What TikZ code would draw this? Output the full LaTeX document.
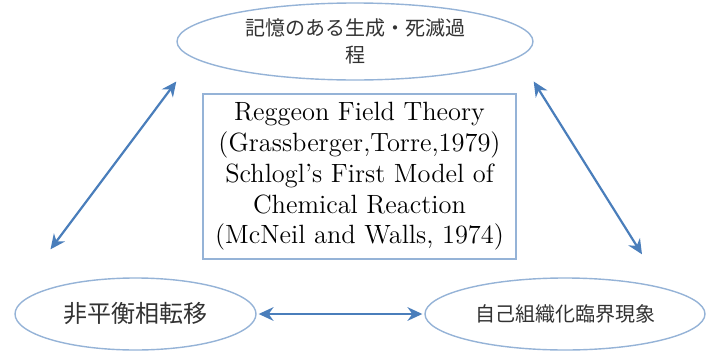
\documentclass[tikz,border=0pt]{standalone}
\usepackage{fontspec}
\usepackage{tikz}
\usetikzlibrary{arrows.meta,positioning,calc,shapes.geometric}
\newfontfamily\jfont{Noto Sans CJK JP}
\definecolor{rim}{RGB}{149,179,215}
\definecolor{link}{RGB}{74,126,187}
\definecolor{ink}{RGB}{50,50,50}
\tikzset{
  phase/.style={ellipse,draw=rim,line width=0.7pt,fill=white,inner sep=0pt,
    font=\jfont,text=ink,align=center},
  refbox/.style={draw=rim,line width=0.7pt,inner sep=0pt,
    font=\fontsize{13.2}{15.4}\selectfont,align=center},
  both/.style={{Stealth[length=2.6mm,width=2.4mm]}-{Stealth[length=2.6mm,width=2.4mm]},
    line width=1.1pt,link},
}

\begin{document}
\begin{tikzpicture}[x=0.5pt,y=-0.5pt]
  \useasboundingbox (0,0) rectangle (707,354);
  \node[phase,minimum width=178pt,minimum height=38.5pt,
    font=\jfont\fontsize{10}{13.5}\selectfont] (mem) at (355,41.5)
    {記憶のある生成・死滅過\\程};
  \node[refbox,minimum width=156.5pt,minimum height=82.5pt] (rft) at (359.5,176.5)
    {Reggeon Field Theory\\(Grassberger,Torre,1979)\\Schlogl's First Model of\\
     Chemical Reaction\\(McNeil and Walls, 1974)};
  \node[phase,minimum width=120.5pt,minimum height=36pt,
    font=\jfont\fontsize{12}{14}\selectfont] (neq) at (135.5,314) {非平衡相転移};
  \node[phase,minimum width=140pt,minimum height=36pt,
    font=\jfont\fontsize{10}{12}\selectfont] (soc) at (565,314) {自己組織化臨界現象};
  \draw[both] ([xshift=-42.5pt,yshift=14pt]neq.north) -- ([yshift=-20pt]mem.west);
  \draw[both] ([yshift=-20pt]mem.east) -- ([xshift=38.5pt,yshift=11.5pt]soc.north);
  \draw[both,shorten <=1pt,shorten >=1pt] (neq) -- (soc);
\end{tikzpicture}
\end{document}
